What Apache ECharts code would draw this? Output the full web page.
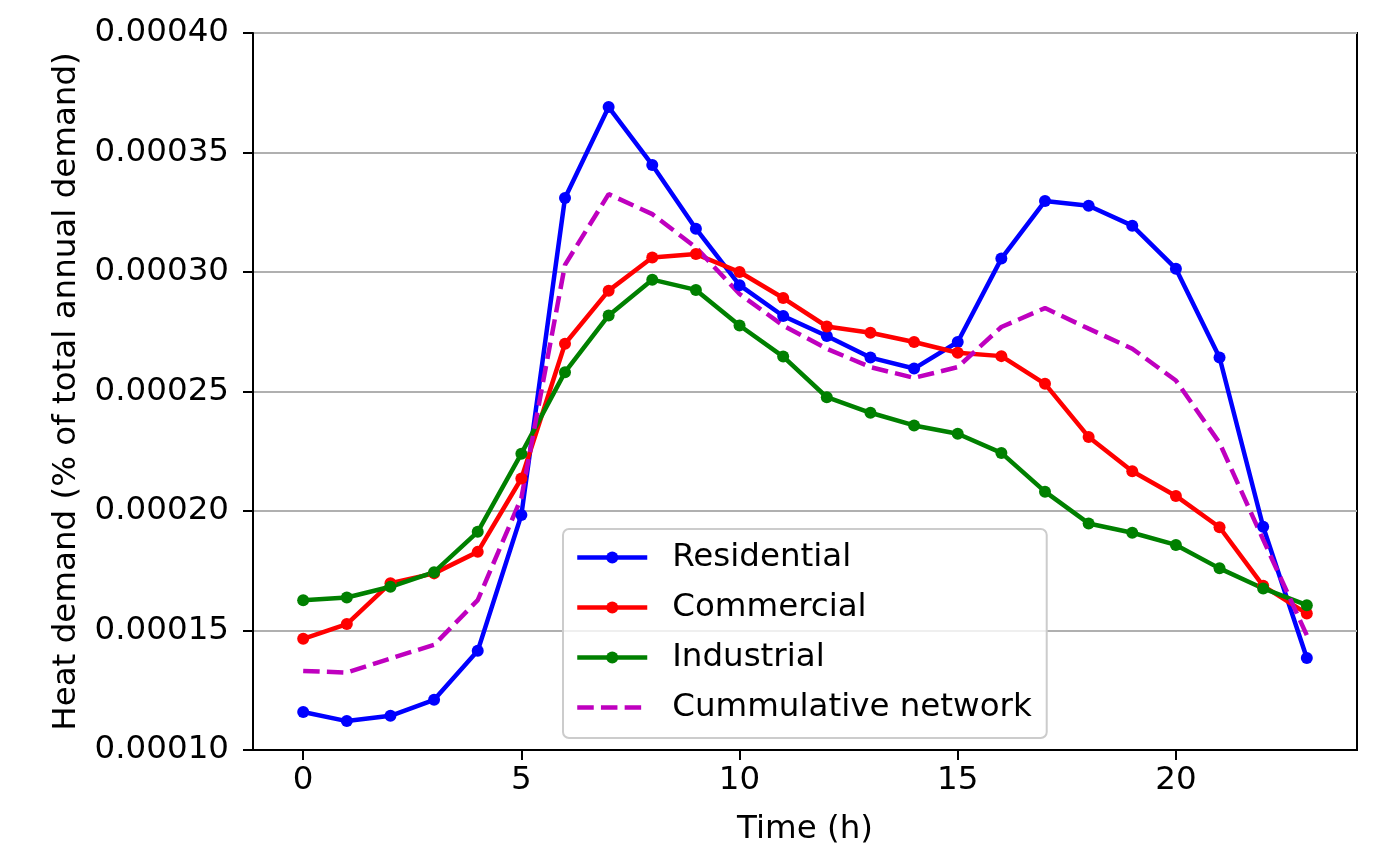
<!DOCTYPE html>
<html>
<head>
<meta charset="utf-8">
<script src="https://cdn.jsdelivr.net/npm/echarts@6/dist/echarts.min.js"></script>
<style>
html,body{margin:0;padding:0;background:#fff;}
#chart{width:1384px;height:865px;}
</style>
</head>
<body>
<div id="chart"></div>
<script>
const hours = [0,1,2,3,4,5,6,7,8,9,10,11,12,13,14,15,16,17,18,19,20,21,22,23];
const residential = [0.0001159,0.0001121,0.0001143,0.0001210,0.0001415,0.0001983,0.0003310,0.0003690,0.0003448,0.0003181,0.0002945,0.0002816,0.0002732,0.0002642,0.0002596,0.0002707,0.0003056,0.0003297,0.0003277,0.0003194,0.0003014,0.0002642,0.0001934,0.0001385];
const commercial = [0.0001465,0.0001527,0.0001698,0.0001739,0.0001829,0.0002136,0.0002700,0.0002922,0.0003061,0.0003075,0.0003000,0.0002891,0.0002772,0.0002746,0.0002707,0.0002662,0.0002648,0.0002532,0.0002310,0.0002166,0.0002063,0.0001932,0.0001687,0.0001571];
const industrial = [0.0001627,0.0001638,0.0001683,0.0001744,0.0001913,0.0002240,0.0002581,0.0002818,0.0002968,0.0002925,0.0002776,0.0002646,0.0002476,0.0002411,0.0002358,0.0002323,0.0002243,0.0002081,0.0001948,0.0001909,0.0001858,0.0001760,0.0001676,0.0001606];
const cumulative = [0.0001331,0.0001324,0.0001383,0.0001440,0.0001627,0.0002055,0.0003030,0.0003326,0.0003242,0.0003103,0.0002908,0.0002776,0.0002679,0.0002602,0.0002557,0.0002602,0.0002770,0.0002849,0.0002763,0.0002679,0.0002546,0.0002285,0.0001880,0.0001480];
const seriesNames = ['Residential','Commercial','Industrial','Cummulative network'];
const xTicks = [0,5,10,15,20];
const yTicks = [0.00010,0.00015,0.00020,0.00025,0.00030,0.00035,0.00040];

const FONT = 'DejaVu Sans';
const FS = 32.5;
const pairs = arr => hours.map((h,i)=>[h,arr[i]]);

const chart = echarts.init(document.getElementById('chart'), null, {renderer:'canvas'});

function lineSeries(name, data, color){
  return {
    name: name, type:'line', data: pairs(data),
    symbol:'circle', symbolSize:12, showSymbol:true,
    lineStyle:{color:color,width:4.5},
    itemStyle:{color:color,borderWidth:0},
    emphasis:{disabled:true}, animation:false
  };
}

const option = {
  animation:false,
  backgroundColor:'#ffffff',
  grid:{left:253,right:27,top:33,bottom:115,show:true,borderColor:'#000',borderWidth:2,backgroundColor:'transparent'},
  xAxis:{
    type:'value', min:-1.15, max:24.15,
    name:'Time (h)', nameLocation:'middle', nameGap:63,
    nameTextStyle:{fontFamily:FONT,fontSize:FS,color:'#000'},
    axisLine:{show:true,onZero:false,lineStyle:{color:'#000',width:2}},
    axisTick:{show:true,length:10,inside:false,customValues:xTicks,lineStyle:{color:'#000',width:2}},
    axisLabel:{show:true,margin:14,customValues:xTicks,fontFamily:FONT,fontSize:FS,color:'#000'},
    splitLine:{show:false}
  },
  yAxis:{
    type:'value', min:0.0001, max:0.0004, interval:0.00005,
    name:'Heat demand (% of total annual demand)', nameLocation:'middle', nameGap:170,
    nameTextStyle:{fontFamily:FONT,fontSize:FS,color:'#000'},
    axisLine:{show:true,onZero:false,lineStyle:{color:'#000',width:2}},
    axisTick:{show:true,length:10,inside:false,customValues:yTicks,lineStyle:{color:'#000',width:2}},
    axisLabel:{show:true,margin:24,customValues:yTicks,fontFamily:FONT,fontSize:FS,color:'#000',
      formatter:v=>Number(v).toFixed(5)},
    splitLine:{show:true,lineStyle:{color:'#b0b0b0',width:2}}
  },
  legend:{
    orient:'vertical', left:563, top:529,
    data:[
      seriesNames[0], seriesNames[1], seriesNames[2],
      {name:seriesNames[3], itemStyle:{opacity:0,color:'rgba(0,0,0,0)'}}
    ],
    itemWidth:70, itemHeight:15, itemGap:17,
    padding:[12,15,14,12],
    backgroundColor:'rgba(255,255,255,0.8)',
    borderColor:'#cccccc', borderWidth:2, borderRadius:6,
    lineStyle:{width:4.5},
    textStyle:{fontFamily:FONT,fontSize:FS,color:'#000',padding:[0,0,0,20],lineHeight:32},
    selectedMode:false
  },
  series:[
    lineSeries(seriesNames[0], residential, '#0000ff'),
    lineSeries(seriesNames[1], commercial, '#ff0000'),
    lineSeries(seriesNames[2], industrial, '#008000'),
    {
      name:seriesNames[3], type:'line', data:pairs(cumulative),
      symbol:'none', showSymbol:false,
      lineStyle:{color:'#bf00bf',width:4.5,type:[16.5,7.2]},
      itemStyle:{color:'#bf00bf'},
      emphasis:{disabled:true}, animation:false
    }
  ]
};
chart.setOption(option);
</script>
</body>
</html>
